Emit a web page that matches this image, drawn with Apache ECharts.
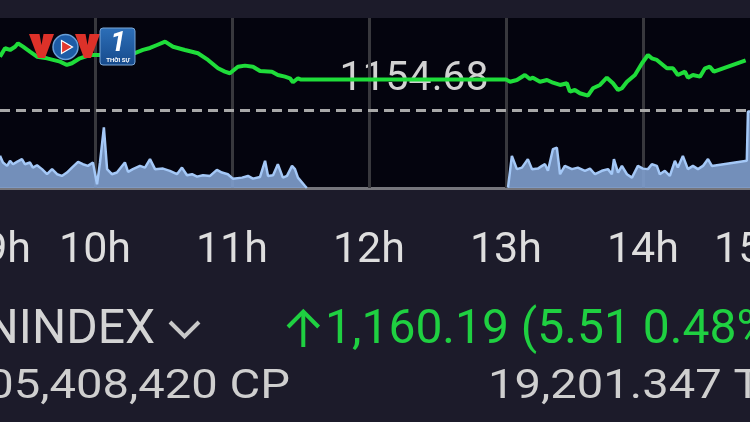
<!DOCTYPE html>
<html><head><meta charset="utf-8">
<script src="https://cdn.jsdelivr.net/npm/echarts@6/dist/echarts.min.js"></script>
<style>html,body{margin:0;padding:0;background:#1c1b2a;overflow:hidden}#c{width:750px;height:422px}</style>
</head><body><div id="c"></div>
<script>
// ---- data (time in minutes since midnight) ----
const priceTimes = [558.4,560.6,562.8,565.0,566.3,568.5,571.5,574.6,579.0,584.7,587.7,589.9,593.4,597.8,602.2,606.6,613.1,617.5,621.0,624.1,627.2,630.7,634.2,639.4,645.1,649.5,653.9,656.9,659.1,662.6,665.7,669.2,672.3,677.5,680.1,683.2,685.4,686.7,688.9,690.0,
  780.0,781.8,784.8,788.3,790.5,791.8,794.9,798.0,800.6,803.7,806.7,808.0,810.2,812.4,815.9,818.1,821.2,824.2,826.9,829.1,830.8,833.0,836.5,839.6,842.2,843.9,846.1,850.5,853.2,855.3,858.4,859.7,861.9,865.0,867.2,869.3,871.1,885.0];
const priceValues = [1160.60,1161.54,1161.35,1161.71,1162.09,1161.71,1161.16,1160.60,1160.42,1160.05,1159.68,1159.87,1160.42,1160.79,1160.79,1160.90,1161.01,1161.01,1161.35,1161.57,1161.90,1162.27,1161.71,1161.35,1160.98,1160.24,1159.31,1158.94,1158.76,1159.49,1159.61,1159.49,1159.01,1158.94,1158.57,1158.38,1158.20,1157.76,1158.20,1158.08,
  1158.08,1157.82,1158.01,1158.57,1158.12,1158.27,1157.82,1158.01,1157.71,1157.46,1157.65,1156.71,1156.90,1156.54,1156.27,1157.09,1157.46,1158.27,1157.65,1156.90,1157.09,1157.82,1158.57,1159.87,1160.79,1160.42,1160.24,1159.31,1159.31,1158.57,1158.94,1158.27,1158.57,1158.38,1159.31,1159.49,1158.94,1160.19];
const volTimes = [558.4,559.7,561.5,562.8,564.1,565.8,568.0,569.3,571.5,572.8,574.6,576.8,579.0,581.2,583.4,585.5,587.7,589.9,592.6,594.7,596.9,599.1,600.9,602.2,603.9,605.3,607.4,609.6,613.1,614.5,616.6,619.7,621.9,624.1,626.3,629.8,632.8,635.9,638.1,640.3,642.5,644.7,647.3,650.4,653.4,655.6,658.2,660.4,664.4,667.0,669.2,672.3,674.5,675.8,678.0,680.1,682.3,684.1,686.3,687.6,688.9,692.0,692.8,
  736.0,
  780.9,781.8,782.6,784.8,787.0,789.6,791.4,794.0,795.8,797.1,798.4,800.6,802.3,803.7,805.8,808.9,811.5,814.6,816.8,819.0,822.0,824.7,826.4,827.3,829.1,830.8,833.0,835.2,837.8,840.0,842.2,843.9,846.1,847.4,849.6,851.8,854.0,855.3,857.5,859.7,861.9,864.1,866.3,868.5,870.2,885.5,886.0,887.5];
const volValues = [1.89,1.50,1.30,1.60,1.40,1.54,1.70,1.40,1.50,1.20,1.34,1.11,0.81,1.11,0.81,0.71,0.91,1.20,1.54,1.40,1.30,1.50,0.22,1.50,3.57,1.11,0.81,0.91,1.50,0.95,1.11,1.30,1.20,1.70,1.11,1.14,1.01,0.81,1.20,0.75,0.81,0.67,0.75,0.71,1.07,0.91,0.81,0.55,0.61,0.71,0.55,0.65,1.60,0.71,0.75,1.40,0.61,0.71,1.30,1.11,0.61,0.12,0,
  null,
  0.02,1.01,1.89,1.11,1.20,1.70,1.11,1.14,1.30,1.40,1.01,2.29,2.38,0.81,1.30,1.11,1.20,1.01,1.14,0.81,1.01,1.11,0.81,1.70,0.91,1.30,0.81,0.61,1.30,1.14,1.11,1.40,1.30,0.81,1.01,0.71,1.60,1.20,1.89,1.11,1.30,1.11,1.30,1.70,1.30,1.60,4.50,4.50];
const refPrice = 1154.68;
const gridHours = [600,660,720,780,840];
const tickValues = [561.5,600,660,720,780,840,886.9];
const tickLabels = ['9h','10h','11h','12h','13h','14h','15h'];
const indexName = 'VNINDEX';
const changeText = '1,160.19 (5.51 0.48%)';
const volumeText = '05,408,420 CP';
const valueText = '19,201.347 T';

const priceData = priceTimes.map((t,i)=>[t,priceValues[i]]);
const volData = volTimes.map((t,i)=>[t,volValues[i]]);

function vShape(x0){
  return [[x0,34],[x0+10.5,34],[x0+12.5,45],[x0+14.5,34],[x0+25,34],[x0+16,58],[x0+9,58]];
}

const chart = echarts.init(document.getElementById('c'));
chart.setOption({
  animation:false,
  backgroundColor:'#1c1b2a',
  grid:{left:0,right:0,top:18,bottom:234,show:true,backgroundColor:'#04040e',borderWidth:0,outerBoundsMode:'none',containLabel:false},
  xAxis:{type:'value',min:558.4,max:886.9,
    axisLine:{show:true,onZero:false,lineStyle:{color:'#76767c',width:3}},
    axisTick:{show:false},
    splitLine:{show:false},
    axisLabel:{customValues:tickValues,showMinLabel:true,showMaxLabel:true,hideOverlap:false,
      formatter:function(v){let i=tickValues.findIndex(x=>Math.abs(x-v)<0.05);return i>=0?tickLabels[i]:'';},
      color:'#dedede',fontSize:43,fontFamily:'Roboto',margin:42}
  },
  yAxis:[{type:'value',min:1146.01,max:1164.90,show:false,splitLine:{show:false}},
         {type:'value',min:0,max:10,show:false,splitLine:{show:false}}],
  series:[
    {type:'line',name:'grid',yAxisIndex:0,data:priceData,symbol:'none',z:1,silent:true,
      lineStyle:{opacity:0,width:0},
      markLine:{silent:true,symbol:'none',label:{show:false},animation:false,z:1,
        lineStyle:{color:'#38383d',width:3,type:'solid'},
        data:gridHours.map(h=>({xAxis:h}))}
    },
    {type:'line',name:'vol',yAxisIndex:1,data:volData,symbol:'none',connectNulls:false,z:2,
      lineStyle:{color:'#a4c8f7',width:2.5},
      areaStyle:{color:'rgba(128,158,205,0.9)',opacity:1}
    },
    {type:'line',name:'price',yAxisIndex:0,data:priceData,symbol:'none',z:3,
      lineStyle:{color:'#1fdd3a',width:4},
      markLine:{silent:true,symbol:'none',label:{show:false},animation:false,
        lineStyle:{color:'#a8a8a8',width:3,type:[10,6]},
        data:[{yAxis:refPrice}]}
    }
  ],
  graphic:{elements:[
    {type:'text',z:1,x:414,y:80,style:{text:refPrice.toFixed(2),fill:'#d2d2d2',fontSize:41,fontFamily:'Roboto',align:'center',verticalAlign:'middle'}},
    // logo
    {type:'polygon',z:100,shape:{points:vShape(29)},style:{fill:'#dd3129'}},
    {type:'polygon',z:100,shape:{points:vShape(75)},style:{fill:'#dd3129'}},
    {type:'circle',z:101,shape:{cx:65.5,cy:47,r:12.5},style:{fill:'#1d5ca6',stroke:'#6aa0d8',lineWidth:1.5}},
    {type:'polygon',z:102,shape:{points:[[61.5,40.5],[61.5,53.5],[72.5,47]]},style:{fill:'#e2382d',stroke:'#ffffff',lineWidth:1.2}},
    {type:'rect',z:103,shape:{x:100,y:28,width:35,height:37,r:3},style:{fill:new echarts.graphic.LinearGradient(0,0,0,1,[{offset:0,color:'#2d6fb8'},{offset:1,color:'#164a8c'}]),stroke:'#7aa6d6',lineWidth:1}},
    {type:'text',z:104,x:118,y:44,style:{text:'1',fill:'#ffffff',fontSize:28,fontWeight:'bold',fontStyle:'italic',fontFamily:'Roboto',align:'center',verticalAlign:'middle'}},
    {type:'text',z:104,x:118,y:60,style:{text:'THỜI SỰ',fill:'#ffffff',fontSize:6,fontWeight:'bold',fontFamily:'Roboto',align:'center',verticalAlign:'middle'}},
    // bottom info
    {type:'text',x:155,y:331,style:{text:indexName,fill:'#d4d4d4',fontSize:48,fontFamily:'Roboto',align:'right',verticalAlign:'middle'}},
    {type:'polyline',shape:{points:[[170,322],[184.5,336.5],[199,322]]},style:{stroke:'#c8c8c8',lineWidth:4,fill:null}},
    {type:'polyline',shape:{points:[[303.3,347],[303.3,312.5]]},style:{stroke:'#1fd041',lineWidth:4,fill:null}},
    {type:'polyline',shape:{points:[[288,327],[303.3,311.5],[318.6,327]]},style:{stroke:'#1fd041',lineWidth:4,fill:null}},
    {type:'text',x:325,y:331,style:{text:changeText,fill:'#1fd041',fontSize:48,fontFamily:'Roboto',align:'left',verticalAlign:'middle'}},
    {type:'text',x:290,y:388,scaleX:1.15,style:{text:volumeText,fill:'#cfcfcf',fontSize:41,fontFamily:'Roboto',align:'right',verticalAlign:'middle'}},
    {type:'text',x:488,y:388,scaleX:1.15,style:{text:valueText,fill:'#cfcfcf',fontSize:41,fontFamily:'Roboto',align:'left',verticalAlign:'middle'}}
  ]}
});
</script></body></html>
